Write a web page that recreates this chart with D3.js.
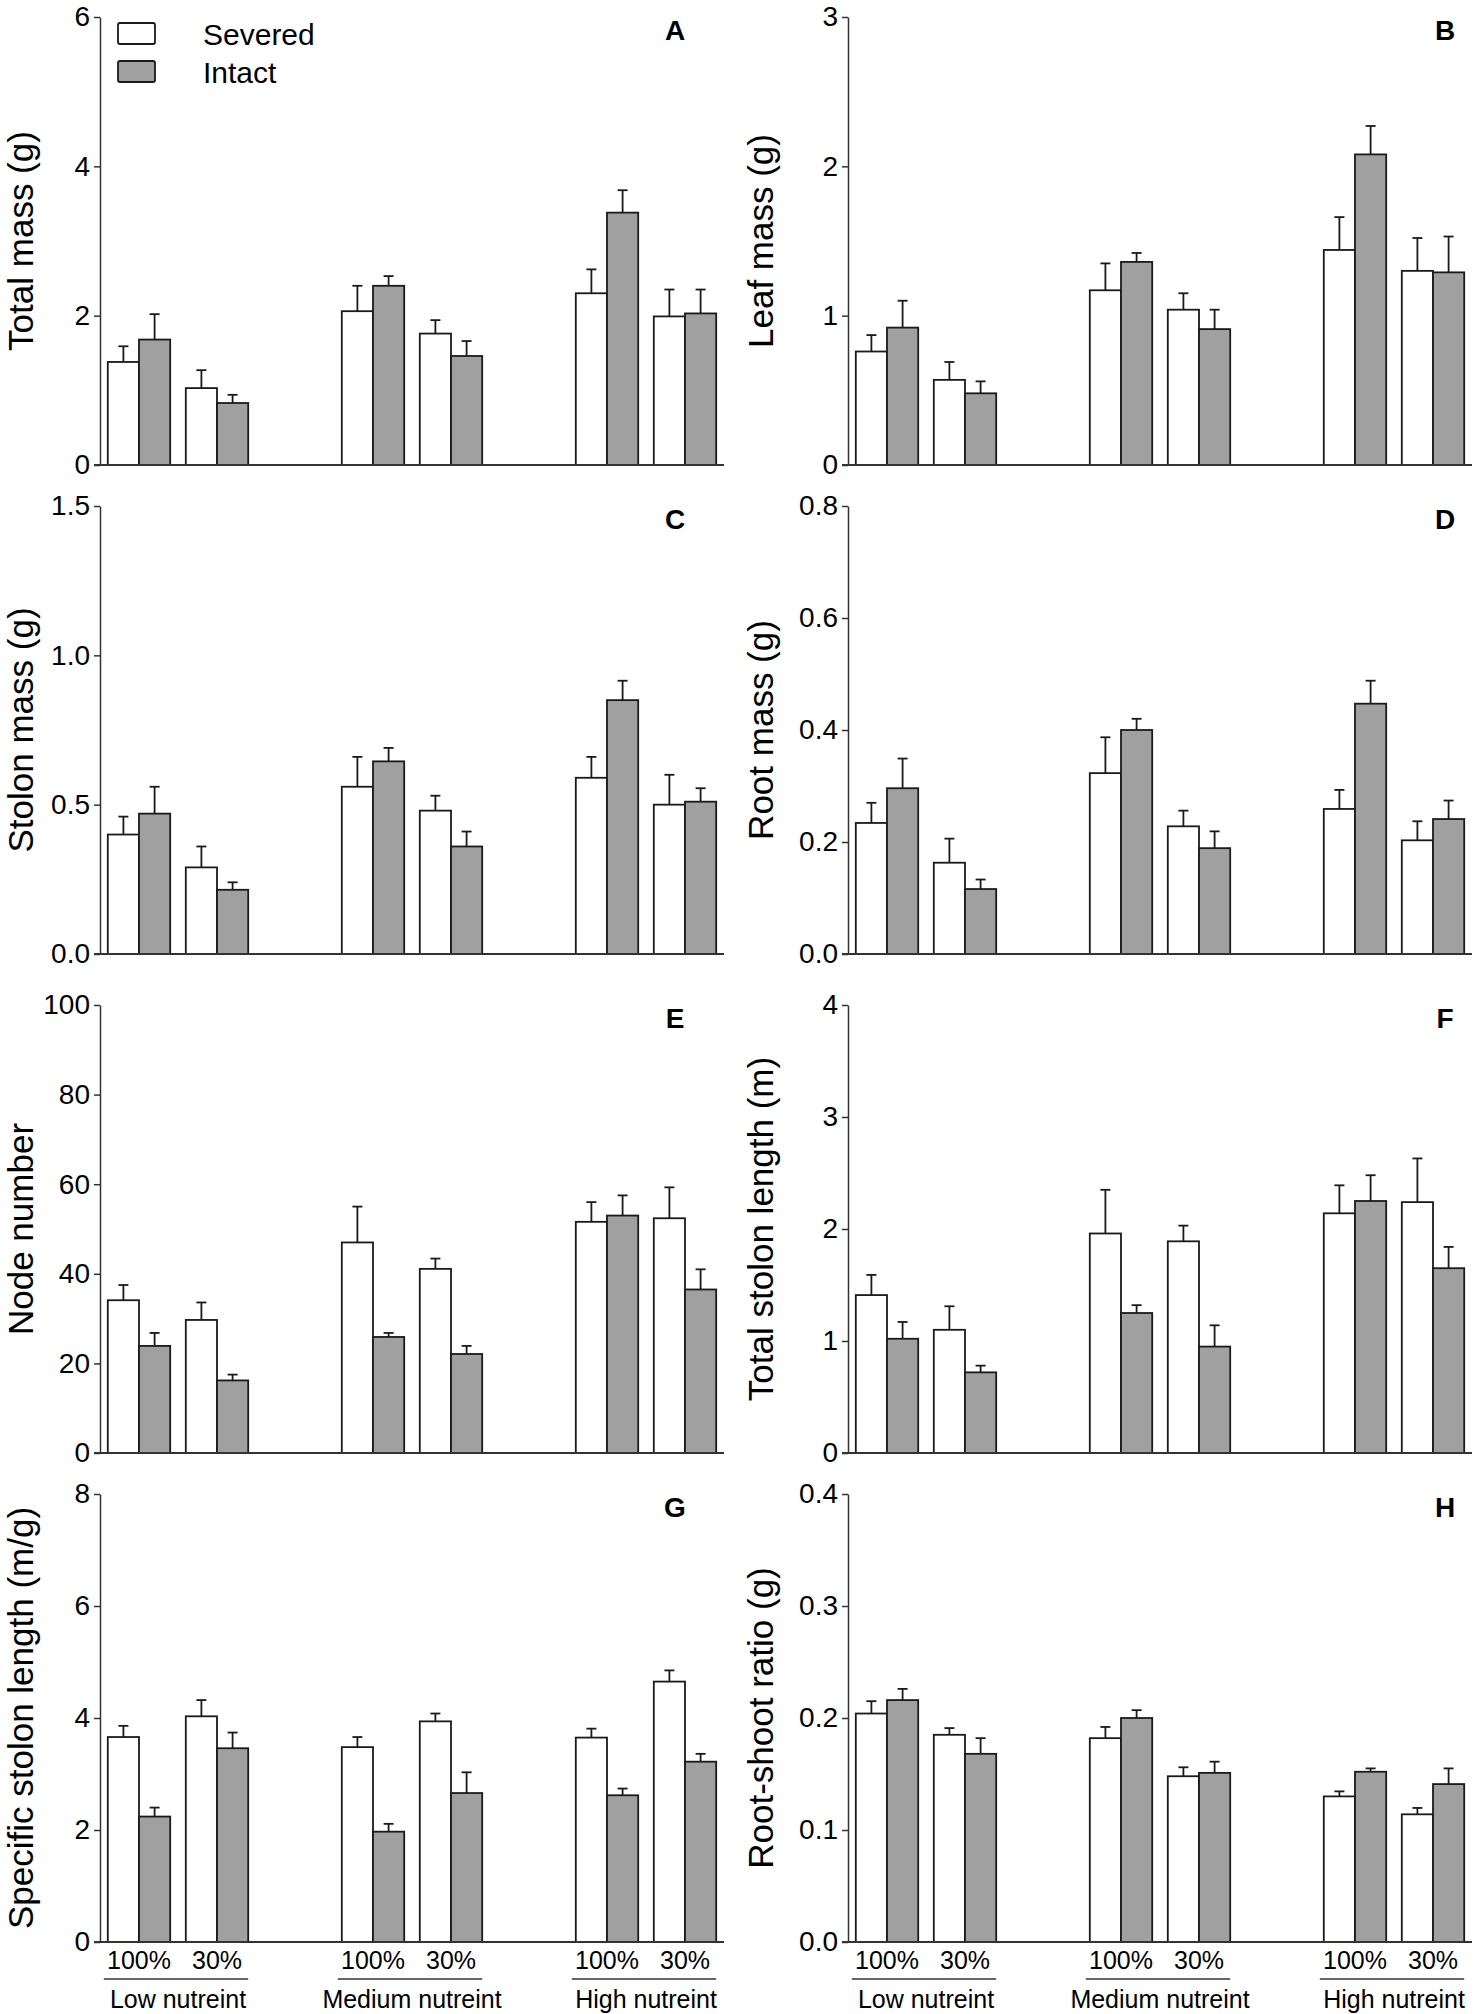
<!DOCTYPE html>
<html><head><meta charset="utf-8">
<script src="https://cdn.jsdelivr.net/npm/d3@7"></script>
<style>
body{margin:0;background:#fff}
svg{display:block}
text{font-family:"Liberation Sans",Arial,Helvetica,sans-serif;fill:#000}
</style>
</head><body>
<svg id="chart" width="1477" height="2014"></svg>
<script>
// ---------- categories ----------
const groups = ["Low nutreint", "Medium nutreint", "High nutreint"];
const levels = ["100%", "30%"];
const treatments = ["Severed", "Intact"];
const panelLetters = ["A", "B", "C", "D", "E", "F", "G", "H"];
const yTitles = ["Total mass (g)", "Leaf mass (g)", "Stolon mass (g)", "Root mass (g)",
                 "Node number", "Total stolon length (m)", "Specific stolon length (m/g)", "Root-shoot ratio (g)"];

// ---------- tick labels ----------
const ticksA = [0, 2, 4, 6];
const ticksB = [0, 1, 2, 3];
const ticksC = [0, 0.5, 1.0, 1.5];
const ticksD = [0, 0.2, 0.4, 0.6, 0.8];
const ticksE = [0, 20, 40, 60, 80, 100];
const ticksF = [0, 1, 2, 3, 4];
const ticksG = [0, 2, 4, 6, 8];
const ticksH = [0, 0.1, 0.2, 0.3, 0.4];

// ---------- series values (order: Low100, Low30, Med100, Med30, High100, High30) ----------
const totalMassSevered   = [1.38, 1.03, 2.06, 1.76, 2.30, 1.99];
const totalMassSeveredSE = [0.21, 0.24, 0.34, 0.18, 0.32, 0.36];
const totalMassIntact    = [1.68, 0.83, 2.40, 1.46, 3.38, 2.03];
const totalMassIntactSE  = [0.34, 0.11, 0.13, 0.20, 0.30, 0.32];

const leafMassSevered   = [0.76, 0.57, 1.17, 1.04, 1.44, 1.30];
const leafMassSeveredSE = [0.11, 0.12, 0.18, 0.11, 0.22, 0.22];
const leafMassIntact    = [0.92, 0.48, 1.36, 0.91, 2.08, 1.29];
const leafMassIntactSE  = [0.18, 0.08, 0.06, 0.13, 0.19, 0.24];

const stolonMassSevered   = [0.40, 0.29, 0.56, 0.48, 0.59, 0.50];
const stolonMassSeveredSE = [0.06, 0.07, 0.10, 0.05, 0.07, 0.10];
const stolonMassIntact    = [0.47, 0.215, 0.645, 0.36, 0.85, 0.51];
const stolonMassIntactSE  = [0.09, 0.025, 0.045, 0.05, 0.065, 0.045];

const rootMassSevered   = [0.234, 0.163, 0.323, 0.228, 0.259, 0.203];
const rootMassSeveredSE = [0.036, 0.043, 0.064, 0.028, 0.034, 0.034];
const rootMassIntact    = [0.296, 0.116, 0.400, 0.189, 0.447, 0.241];
const rootMassIntactSE  = [0.053, 0.017, 0.020, 0.030, 0.041, 0.033];

const nodeSevered   = [34.1, 29.7, 47.0, 41.1, 51.6, 52.4];
const nodeSeveredSE = [3.4, 3.9, 8.0, 2.3, 4.4, 6.9];
const nodeIntact    = [23.9, 16.2, 25.9, 22.1, 53.0, 36.5];
const nodeIntactSE  = [2.9, 1.3, 0.9, 1.8, 4.5, 4.5];

const stolonLenSevered   = [1.41, 1.10, 1.96, 1.89, 2.14, 2.24];
const stolonLenSeveredSE = [0.18, 0.21, 0.39, 0.14, 0.25, 0.39];
const stolonLenIntact    = [1.02, 0.72, 1.25, 0.95, 2.25, 1.65];
const stolonLenIntactSE  = [0.15, 0.06, 0.07, 0.19, 0.23, 0.19];

const specLenSevered   = [3.66, 4.03, 3.48, 3.94, 3.65, 4.65];
const specLenSeveredSE = [0.20, 0.29, 0.18, 0.14, 0.16, 0.20];
const specLenIntact    = [2.24, 3.46, 1.97, 2.66, 2.62, 3.22];
const specLenIntactSE  = [0.16, 0.28, 0.14, 0.37, 0.12, 0.14];

const rsRatioSevered   = [0.204, 0.185, 0.182, 0.148, 0.130, 0.114];
const rsRatioSeveredSE = [0.011, 0.006, 0.010, 0.008, 0.0045, 0.0057];
const rsRatioIntact    = [0.216, 0.168, 0.200, 0.151, 0.152, 0.141];
const rsRatioIntactSE  = [0.010, 0.014, 0.007, 0.010, 0.003, 0.014];

// ---------- assemble panels ----------
const panels = [
  {ticks: ticksA, fmt: d3.format("d"),   sev: totalMassSevered, sevSE: totalMassSeveredSE, int: totalMassIntact, intSE: totalMassIntactSE},
  {ticks: ticksB, fmt: d3.format("d"),   sev: leafMassSevered, sevSE: leafMassSeveredSE, int: leafMassIntact, intSE: leafMassIntactSE},
  {ticks: ticksC, fmt: d3.format(".1f"), sev: stolonMassSevered, sevSE: stolonMassSeveredSE, int: stolonMassIntact, intSE: stolonMassIntactSE},
  {ticks: ticksD, fmt: d3.format(".1f"), sev: rootMassSevered, sevSE: rootMassSeveredSE, int: rootMassIntact, intSE: rootMassIntactSE},
  {ticks: ticksE, fmt: d3.format("d"),   sev: nodeSevered, sevSE: nodeSeveredSE, int: nodeIntact, intSE: nodeIntactSE},
  {ticks: ticksF, fmt: d3.format("d"),   sev: stolonLenSevered, sevSE: stolonLenSeveredSE, int: stolonLenIntact, intSE: stolonLenIntactSE},
  {ticks: ticksG, fmt: d3.format("d"),   sev: specLenSevered, sevSE: specLenSeveredSE, int: specLenIntact, intSE: specLenIntactSE},
  {ticks: ticksH, fmt: d3.format(".1f"), sev: rsRatioSevered, sevSE: rsRatioSeveredSE, int: rsRatioIntact, intSE: rsRatioIntactSE}
];

// ---------- layout ----------
const svg = d3.select("#chart");
const colX = [100, 848];          // y-axis positions
const axisW = 624;
const rowTop = [17, 506, 1005, 1494];
const plotH = 448;
const titleOff = [67, 75];
const letterOff = [575, 597];
const GRAY = "#a0a0a0";
const INK = "#1a1a1a";
const FONT = '"Liberation Sans",Arial,sans-serif';

// slots: 2 levels per group with an empty spacer slot between groups
const slots = [];
groups.forEach((g, gi) => {
  levels.forEach(l => slots.push(g + "|" + l));
  if (gi < groups.length - 1) slots.push("gap" + gi);
});
const conds = [];
groups.forEach(g => levels.forEach(l => conds.push({group: g, level: l, key: g + "|" + l})));

panels.forEach((p, i) => {
  const col = i % 2, row = Math.floor(i / 2);
  const x0 = colX[col], top = rowTop[row], base = top + plotH;
  const g = svg.append("g");

  const y = d3.scaleLinear().domain([0, p.ticks[p.ticks.length - 1]]).range([base, top]);
  const x = d3.scaleBand().domain(slots).range([x0, x0 + axisW]).paddingInner(0.2).paddingOuter(0.1);
  const xt = d3.scaleBand().domain(treatments).range([0, x.bandwidth()]);

  // y axis
  const ya = g.append("g").attr("transform", `translate(${x0},0)`)
    .call(d3.axisLeft(y).tickValues(p.ticks).tickFormat(p.fmt).tickSize(6).tickSizeOuter(0).tickPadding(4));
  ya.selectAll("path.domain").attr("stroke", "#333").attr("stroke-width", 1.5);
  ya.selectAll(".tick line").attr("stroke", "#333").attr("stroke-width", 1.5);
  ya.selectAll(".tick text").attr("font-size", 28).attr("fill", "#000").attr("font-family", FONT);

  // y title
  g.append("text")
    .attr("transform", `translate(${x0 - titleOff[col]},${(top + base) / 2}) rotate(-90)`)
    .attr("text-anchor", "middle").attr("font-size", 35)
    .text(yTitles[i]);

  // panel letter
  g.append("text").attr("x", x0 + letterOff[col]).attr("y", top + 23)
    .attr("text-anchor", "middle").attr("font-size", 28).attr("font-weight", "bold")
    .text(panelLetters[i]);

  // bars
  const data = [];
  conds.forEach((c, k) => {
    data.push({key: c.key, t: "Severed", v: p.sev[k], se: p.sevSE[k]});
    data.push({key: c.key, t: "Intact", v: p.int[k], se: p.intSE[k]});
  });
  const bars = g.append("g");
  bars.selectAll("rect").data(data).join("rect")
    .attr("x", d => x(d.key) + xt(d.t))
    .attr("y", d => y(d.v))
    .attr("width", xt.bandwidth())
    .attr("height", d => y(0) - y(d.v))
    .attr("fill", d => d.t === "Severed" ? "#fff" : GRAY)
    .attr("stroke", INK).attr("stroke-width", 1.8);

  // error bars
  const cx = d => x(d.key) + xt(d.t) + xt.bandwidth() / 2;
  const eb = g.append("g").attr("stroke", INK).attr("stroke-width", 1.8);
  eb.selectAll("line.v").data(data).join("line").attr("class", "v")
    .attr("x1", cx).attr("x2", cx)
    .attr("y1", d => y(d.v)).attr("y2", d => y(d.v + d.se));
  eb.selectAll("line.c").data(data).join("line").attr("class", "c")
    .attr("x1", d => cx(d) - 5).attr("x2", d => cx(d) + 5)
    .attr("y1", d => y(d.v + d.se)).attr("y2", d => y(d.v + d.se));

  // x axis
  const xa = g.append("g").attr("transform", `translate(0,${y(0)})`)
    .call(d3.axisBottom(x).tickSize(0).tickPadding(9)
      .tickFormat(d => (row === 3 && d.indexOf("|") > 0) ? d.split("|")[1] : ""));
  xa.select("path.domain").remove();
  xa.selectAll(".tick text").attr("font-size", 25).attr("fill", "#000").attr("font-family", FONT);
  g.append("line").attr("x1", x0 - 6).attr("x2", x0 + axisW)
    .attr("y1", y(0)).attr("y2", y(0)).attr("stroke", "#333").attr("stroke-width", 2);

  // group labels under bottom row
  if (row === 3) {
    groups.forEach(gr => {
      const xa0 = x(gr + "|" + levels[0]);
      const xa1 = x(gr + "|" + levels[1]) + x.bandwidth();
      g.append("line").attr("x1", xa0 - 4).attr("x2", xa1)
        .attr("y1", y(0) + 37).attr("y2", y(0) + 37)
        .attr("stroke", "#333").attr("stroke-width", 1.5);
      g.append("text").attr("x", (xa0 + xa1) / 2).attr("y", y(0) + 66)
        .attr("text-anchor", "middle").attr("font-size", 25).text(gr);
    });
  }

  // legend in panel A
  if (i === 0) {
    const lg = g.append("g");
    treatments.forEach((t, k) => {
      lg.append("rect").attr("x", x0 + 18).attr("y", top + 6 + k * 38)
        .attr("width", 37).attr("height", 21).attr("rx", 2)
        .attr("fill", t === "Severed" ? "#fff" : GRAY).attr("stroke", INK).attr("stroke-width", 1.8);
      lg.append("text").attr("x", x0 + 103).attr("y", top + 28 + k * 38)
        .attr("font-size", 30).text(t);
    });
  }
});
</script>
</body></html>
